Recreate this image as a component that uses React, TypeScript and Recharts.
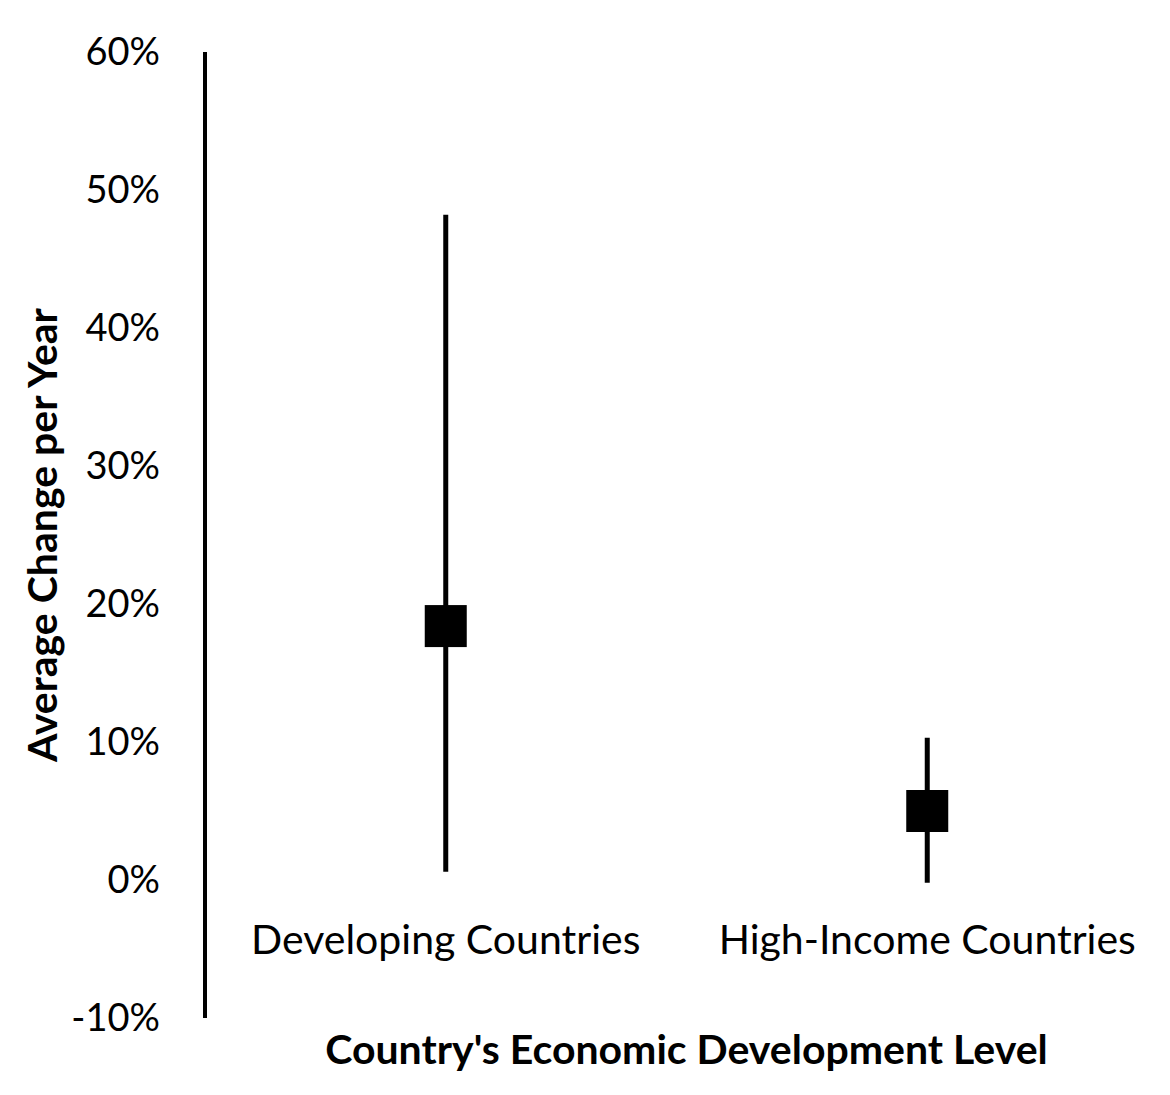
import { ComposedChart, Line, ErrorBar, XAxis, YAxis, Label } from 'recharts'

const categories = ['Developing Countries', 'High-Income Countries']
const means = [0.184, 0.05]
const lows = [0.006, -0.002]
const highs = [0.482, 0.103]
const yTicks = [-0.1, 0, 0.1, 0.2, 0.3, 0.4, 0.5, 0.6]

const FONT = 'Lato, "Open Sans", sans-serif'

const data = categories.map((name, i) => ({
  name,
  mean: means[i],
  err: [means[i] - lows[i], highs[i] - means[i]],
}))

const SquareDot = (props: any) => {
  const { cx, cy } = props
  if (cx == null || cy == null) return null
  return <rect x={cx - 21} y={cy - 21} width={42} height={42} fill="#000" />
}

// Excel puts the category labels just under the 0% line, not at the bottom
const CategoryTick = (props: any) => {
  const { x, y, payload } = props
  return (
    <text x={x} y={y - 72} textAnchor="middle" fill="#000" fontSize={41} fontFamily={FONT}>
      {payload.value}
    </text>
  )
}

export default function App() {
  return (
    <div style={{ position: 'absolute', left: 0, top: 0, background: '#fff' }}>
      <ComposedChart
        width={1170}
        height={1095}
        data={data}
        margin={{ top: 52, right: 2, bottom: 0, left: 0 }}
      >
        <XAxis
          dataKey="name"
          type="category"
          scale="band"
          axisLine={false}
          tickLine={false}
          height={77}
          tick={<CategoryTick />}
        >
          <Label
            value="Country's Economic Development Level"
            position="insideBottom"
            offset={31}
            fill="#000"
            style={{ fontSize: 41, fontWeight: 700, fontFamily: FONT }}
          />
        </XAxis>
        <YAxis
          type="number"
          domain={[-0.1, 0.6]}
          ticks={yTicks}
          interval={0}
          width={205}
          tickLine={false}
          tickSize={6}
          tickMargin={39}
          axisLine={{ stroke: '#000', strokeWidth: 4 }}
          tickFormatter={(v: number) => `${Math.round(v * 100)}%`}
          tick={{ fontSize: 38, fill: '#000', fontFamily: FONT }}
        >
          <Label
            value="Average Change per Year"
            angle={-90}
            position="insideLeft"
            offset={42}
            fill="#000"
            style={{ textAnchor: 'middle', fontSize: 41, fontWeight: 700, fontFamily: FONT }}
          />
        </YAxis>
        <Line
          dataKey="mean"
          stroke="none"
          dot={<SquareDot />}
          activeDot={false}
          isAnimationActive={false}
        >
          <ErrorBar dataKey="err" direction="y" width={0} stroke="#000" strokeWidth={5} />
        </Line>
      </ComposedChart>
    </div>
  )
}
